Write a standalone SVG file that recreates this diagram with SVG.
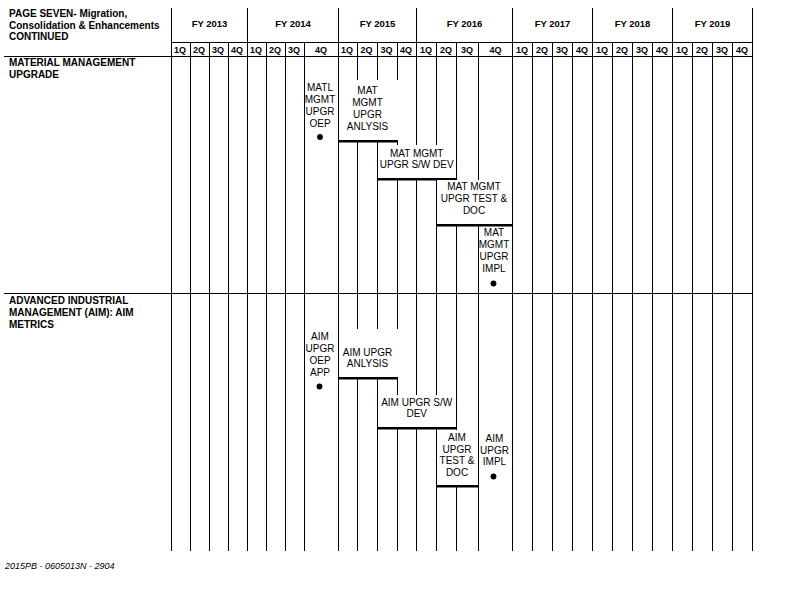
<svg xmlns="http://www.w3.org/2000/svg" width="792" height="612" viewBox="0 0 792 612">
  <style>
    text { font-family: "Liberation Sans", Arial, sans-serif; fill: #000; }
    .title { font-size: 10px; font-weight: bold; }
    .fy { font-size: 9.5px; font-weight: bold; text-anchor: middle; }
    .qt { font-size: 9px; font-weight: bold; text-anchor: middle; }
    .sec { font-size: 10px; font-weight: bold; }
    .lbl { font-size: 10px; text-anchor: middle; }
    .foot { font-size: 9px; font-style: italic; }
    .gl { stroke: #000; stroke-width: 1; fill: none; }
    .bar { stroke: #000; stroke-width: 2.6; fill: none; }
    .mask { fill: #fff; stroke: none; }
    .dot { fill: #000; }
  </style>

  <rect x="0" y="0" width="792" height="612" fill="#fff"/>

  <!-- title block -->
  <g id="title">
    <text class="title" x="9" y="17">PAGE SEVEN- Migration,</text>
    <text class="title" x="9" y="28.5">Consolidation &amp; Enhancements</text>
    <text class="title" x="9" y="40">CONTINUED</text>
  </g>

  <!-- timeline grid -->
  <g id="grid">
    <!-- fiscal year dividers in the header band -->
    <path class="gl" d="M171.5 8V42 M247.5 8V42 M338.5 8V42 M416.5 8V42 M512.5 8V42 M592.5 8V42 M672.5 8V42 M752.5 8V42"/>
    <!-- horizontal rules -->
    <path class="gl" d="M171.5 42.5H752.5 M4 56.5H752.5 M4 293.5H752.5"/>
    <!-- quarter columns -->
    <path class="gl" d="M171.5 42V551 M190.5 42V551 M209.5 42V551 M228.5 42V551 M247.5 42V551
                        M266.5 42V551 M285.5 42V551 M304.5 42V551 M338.5 42V551
                        M357.5 42V551 M377.5 42V551 M397.5 42V551 M416.5 42V551
                        M436.5 42V551 M456.5 42V551 M478.5 42V551 M512.5 42V551
                        M532.5 42V551 M552.5 42V551 M572.5 42V551 M592.5 42V551
                        M612.5 42V551 M632.5 42V551 M652.5 42V551 M672.5 42V551
                        M692.5 42V551 M712.5 42V551 M732.5 42V551 M752.5 42V551"/>
  </g>

  <!-- fiscal year and quarter headings -->
  <g id="years">
    <text class="fy" x="209.5" y="27">FY 2013</text>
    <text class="fy" x="293" y="27">FY 2014</text>
    <text class="fy" x="377.5" y="27">FY 2015</text>
    <text class="fy" x="464.5" y="27">FY 2016</text>
    <text class="fy" x="552.5" y="27">FY 2017</text>
    <text class="fy" x="632.5" y="27">FY 2018</text>
    <text class="fy" x="712.5" y="27">FY 2019</text>
  </g>
  <g id="quarters">
    <text class="qt" x="180" y="52.5">1Q</text>
    <text class="qt" x="199" y="52.5">2Q</text>
    <text class="qt" x="218" y="52.5">3Q</text>
    <text class="qt" x="237" y="52.5">4Q</text>
    <text class="qt" x="256" y="52.5">1Q</text>
    <text class="qt" x="275" y="52.5">2Q</text>
    <text class="qt" x="294" y="52.5">3Q</text>
    <text class="qt" x="321" y="52.5">4Q</text>
    <text class="qt" x="347" y="52.5">1Q</text>
    <text class="qt" x="366.5" y="52.5">2Q</text>
    <text class="qt" x="386.5" y="52.5">3Q</text>
    <text class="qt" x="406" y="52.5">4Q</text>
    <text class="qt" x="426" y="52.5">1Q</text>
    <text class="qt" x="446" y="52.5">2Q</text>
    <text class="qt" x="467" y="52.5">3Q</text>
    <text class="qt" x="495.5" y="52.5">4Q</text>
    <text class="qt" x="522" y="52.5">1Q</text>
    <text class="qt" x="542" y="52.5">2Q</text>
    <text class="qt" x="562" y="52.5">3Q</text>
    <text class="qt" x="582" y="52.5">4Q</text>
    <text class="qt" x="602" y="52.5">1Q</text>
    <text class="qt" x="622" y="52.5">2Q</text>
    <text class="qt" x="642" y="52.5">3Q</text>
    <text class="qt" x="662" y="52.5">4Q</text>
    <text class="qt" x="682" y="52.5">1Q</text>
    <text class="qt" x="702" y="52.5">2Q</text>
    <text class="qt" x="722" y="52.5">3Q</text>
    <text class="qt" x="742" y="52.5">4Q</text>
  </g>

  <!-- section: material management -->
  <g id="sec-matl">
    <text class="sec" x="9" y="66">MATERIAL MANAGEMENT</text>
    <text class="sec" x="9" y="78">UPGRADE</text>
  </g>

  <g id="matl-oep">
    <text class="lbl" x="320" y="90.5">MATL</text>
    <text class="lbl" x="320" y="102.5">MGMT</text>
    <text class="lbl" x="320" y="114.5">UPGR</text>
    <text class="lbl" x="320" y="126.5">OEP</text>
    <circle class="dot" cx="320" cy="137" r="2.9"/>
  </g>

  <g id="matl-anlysis">
    <rect class="mask" x="339.2" y="80" width="59.5" height="60"/>
    <text class="lbl" x="367.5" y="94">MAT</text>
    <text class="lbl" x="367.5" y="106">MGMT</text>
    <text class="lbl" x="367.5" y="118">UPGR</text>
    <text class="lbl" x="367.5" y="130">ANLYSIS</text>
    <path class="bar" d="M338 141.3H397.5"/>
  </g>

  <g id="matl-swdev">
    <rect class="mask" x="378.2" y="145" width="77.6" height="33"/>
    <text class="lbl" x="416.7" y="156.5">MAT MGMT</text>
    <text class="lbl" x="416.7" y="168">UPGR S/W DEV</text>
    <path class="bar" d="M377 179.3H457"/>
  </g>

  <g id="matl-test">
    <rect class="mask" x="437.2" y="180" width="74.6" height="44"/>
    <text class="lbl" x="474" y="189.5">MAT MGMT</text>
    <text class="lbl" x="474" y="201.5">UPGR TEST &amp;</text>
    <text class="lbl" x="474" y="214">DOC</text>
    <path class="bar" d="M436 225.3H513"/>
  </g>

  <g id="matl-impl">
    <text class="lbl" x="494" y="236">MAT</text>
    <text class="lbl" x="494" y="248">MGMT</text>
    <text class="lbl" x="494" y="260">UPGR</text>
    <text class="lbl" x="494" y="272">IMPL</text>
    <circle class="dot" cx="493.5" cy="283.5" r="2.9"/>
  </g>

  <!-- section: AIM metrics -->
  <g id="sec-aim">
    <text class="sec" x="9" y="303.5">ADVANCED INDUSTRIAL</text>
    <text class="sec" x="9" y="315.5">MANAGEMENT (AIM): AIM</text>
    <text class="sec" x="9" y="327.5">METRICS</text>
  </g>

  <g id="aim-oep">
    <text class="lbl" x="320" y="339.5">AIM</text>
    <text class="lbl" x="320" y="351.5">UPGR</text>
    <text class="lbl" x="320" y="363.5">OEP</text>
    <text class="lbl" x="320" y="375.5">APP</text>
    <circle class="dot" cx="319.5" cy="386.5" r="2.9"/>
  </g>

  <g id="aim-anlysis">
    <rect class="mask" x="339.2" y="329" width="59.5" height="48"/>
    <text class="lbl" x="367.5" y="355.5">AIM UPGR</text>
    <text class="lbl" x="367.5" y="367">ANLYSIS</text>
    <path class="bar" d="M338 378.3H397.5"/>
  </g>

  <g id="aim-swdev">
    <rect class="mask" x="378.2" y="395" width="77.6" height="32"/>
    <text class="lbl" x="416.7" y="405.5">AIM UPGR S/W</text>
    <text class="lbl" x="416.7" y="417">DEV</text>
    <path class="bar" d="M377 428.3H457"/>
  </g>

  <g id="aim-test">
    <rect class="mask" x="437.2" y="430" width="40.6" height="55"/>
    <text class="lbl" x="457" y="441">AIM</text>
    <text class="lbl" x="457" y="452.5">UPGR</text>
    <text class="lbl" x="457" y="464">TEST &amp;</text>
    <text class="lbl" x="457" y="475.5">DOC</text>
    <path class="bar" d="M436 486.3H479"/>
  </g>

  <g id="aim-impl">
    <text class="lbl" x="494.5" y="442">AIM</text>
    <text class="lbl" x="494.5" y="453.5">UPGR</text>
    <text class="lbl" x="494.5" y="465">IMPL</text>
    <circle class="dot" cx="493.5" cy="476.5" r="2.9"/>
  </g>

  <g id="footer">
    <text class="foot" x="5" y="569">2015PB - 0605013N - 2904</text>
  </g>
</svg>
